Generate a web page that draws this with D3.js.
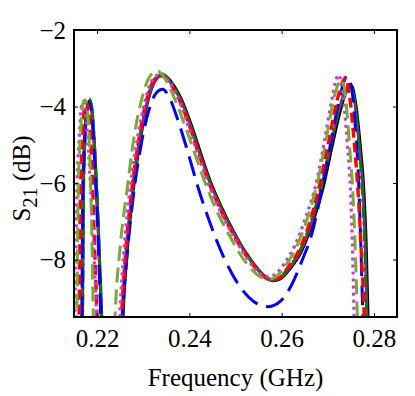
<!DOCTYPE html>
<html>
<head>
<meta charset="utf-8">
<script src="https://cdn.jsdelivr.net/npm/d3@7"></script>
<style>
  body { margin: 0; background: #fff; }
</style>
</head>
<body>
<div id="chart"></div>
<script>
const serif = "'Liberation Serif'";

// x ticks and y ticks
const xTicks = [0.22, 0.24, 0.26, 0.28];
const yTicks = [-8, -6, -4, -2];

// each series: [frequency GHz, S21 dB]
const blackSolid = [[0.2165,-11],[0.2168,-9.5],[0.2170,-6.2],[0.2174,-4.7],[0.2179,-4.0],[0.2184,-3.85],[0.2189,-4.1],[0.2195,-5.2],[0.2202,-7.0],[0.2210,-9.5],[0.2214,-11],
  [0.2252,-11],[0.2256,-9.5],[0.2265,-7.8],[0.2278,-6.2],[0.2293,-4.9],[0.2310,-3.85],[0.2327,-3.3],[0.2343,-3.17],[0.2360,-3.35],[0.2384,-3.85],[0.2406,-4.55],[0.2425,-5.25],[0.2445,-5.95],[0.2470,-6.65],[0.2495,-7.25],[0.2520,-7.78],[0.2545,-8.2],[0.2565,-8.45],[0.2580,-8.55],[0.2597,-8.5],[0.2617,-8.25],[0.2642,-7.8],[0.2668,-7.0],[0.2690,-6.1],[0.2708,-5.1],[0.2726,-4.15],[0.2740,-3.6],[0.2751,-3.45],[0.2760,-3.9],[0.2770,-5.0],[0.2778,-6.2],[0.2783,-7.6],[0.2787,-9.5],[0.2790,-11]];

const purpleSolid = [[0.2165,-11],[0.2168,-9.5],[0.2170,-6.3],[0.2174,-4.75],[0.2179,-4.05],[0.2184,-3.9],[0.2189,-4.15],[0.2195,-5.25],[0.2202,-7.05],[0.2209,-9.5],[0.2213,-11],
  [0.2251,-11],[0.2255,-9.5],[0.2264,-7.8],[0.2277,-6.2],[0.2292,-4.9],[0.2309,-3.87],[0.2326,-3.32],[0.2342,-3.2],[0.2359,-3.38],[0.2383,-3.88],[0.2405,-4.58],[0.2424,-5.28],[0.2444,-5.96],[0.2469,-6.66],[0.2494,-7.25],[0.2519,-7.78],[0.2544,-8.2],[0.2564,-8.45],[0.2579,-8.54],[0.2596,-8.49],[0.2616,-8.23],[0.2641,-7.78],[0.2666,-6.98],[0.2688,-6.05],[0.2706,-5.05],[0.2724,-4.1],[0.2738,-3.58],[0.2749,-3.42],[0.2758,-3.85],[0.2768,-5.0],[0.2776,-6.2],[0.2781,-7.6],[0.2785,-9.5],[0.2788,-11]];

const greenDashDot = [[0.2166,-11],[0.2169,-9.5],[0.2171,-6.2],[0.2175,-4.6],[0.2180,-3.9],[0.2184,-3.8],[0.2189,-4.05],[0.2195,-5.1],[0.2202,-6.9],[0.2209,-9.5],[0.2213,-11],
  [0.2250,-11],[0.2254,-9.5],[0.2263,-7.8],[0.2276,-6.2],[0.2291,-4.88],[0.2308,-3.83],[0.2325,-3.28],[0.2341,-3.15],[0.2358,-3.33],[0.2382,-3.85],[0.2404,-4.55],[0.2423,-5.25],[0.2443,-5.94],[0.2468,-6.64],[0.2493,-7.24],[0.2518,-7.76],[0.2543,-8.18],[0.2563,-8.43],[0.2578,-8.52],[0.2595,-8.47],[0.2615,-8.2],[0.2640,-7.75],[0.2665,-6.95],[0.2687,-6.0],[0.2706,-5.0],[0.2724,-4.1],[0.2739,-3.6],[0.2750,-3.5],[0.2759,-3.95],[0.2768,-5.05],[0.2775,-6.25],[0.2780,-7.65],[0.2784,-9.5],[0.2787,-11]];

const blueDashed = [[0.2164,-11],[0.2167,-9.5],[0.2169,-6.3],[0.2173,-4.8],[0.2178,-4.05],[0.2183,-3.9],[0.2188,-4.15],[0.2194,-5.3],[0.2201,-7.1],[0.2208,-9.5],[0.2212,-11],
  [0.2250,-11],[0.2255,-9.5],[0.2265,-7.9],[0.2278,-6.4],[0.2294,-5.1],[0.2311,-4.15],[0.2328,-3.65],[0.2342,-3.55],[0.2356,-3.75],[0.2375,-4.35],[0.2397,-5.2],[0.2419,-6.12],[0.2445,-7.05],[0.2475,-7.95],[0.2508,-8.68],[0.2540,-9.1],[0.2571,-9.23],[0.2598,-9.08],[0.2622,-8.65],[0.2645,-8.0],[0.2666,-7.3],[0.2688,-6.1],[0.2708,-4.85],[0.2726,-3.75],[0.2742,-3.2],[0.2752,-3.55],[0.2760,-4.6],[0.2767,-6.0],[0.2772,-7.8],[0.2776,-9.5],[0.2779,-11]];

const redDashed = [[0.2158,-11],[0.2161,-9.5],[0.2164,-6.3],[0.2169,-4.7],[0.2173,-4.0],[0.2177,-3.9],[0.2182,-4.15],[0.2188,-5.3],[0.2193,-7.1],[0.2200,-9.5],[0.2204,-11],
  [0.2248,-11],[0.2253,-9.5],[0.2262,-7.8],[0.2275,-6.2],[0.2290,-4.9],[0.2307,-3.85],[0.2324,-3.3],[0.2340,-3.2],[0.2357,-3.38],[0.2381,-3.9],[0.2403,-4.6],[0.2422,-5.3],[0.2442,-5.97],[0.2467,-6.68],[0.2492,-7.27],[0.2517,-7.78],[0.2542,-8.2],[0.2562,-8.45],[0.2577,-8.53],[0.2594,-8.48],[0.2614,-8.2],[0.2638,-7.75],[0.2663,-6.95],[0.2685,-5.9],[0.2703,-4.85],[0.2720,-3.85],[0.2731,-3.4],[0.2738,-3.25],[0.2747,-3.7],[0.2757,-4.9],[0.2766,-6.3],[0.2773,-7.9],[0.2779,-9.5],[0.2782,-11]];

const magentaDotted = [[0.2149,-11],[0.2152,-9.5],[0.2156,-6.3],[0.2162,-4.7],[0.2166,-4.0],[0.2170,-3.87],[0.2175,-4.15],[0.2182,-5.3],[0.2190,-7.1],[0.2199,-9.5],[0.2203,-11],
  [0.2244,-11],[0.2249,-9.5],[0.2258,-7.8],[0.2272,-6.1],[0.2288,-4.8],[0.2305,-3.8],[0.2322,-3.27],[0.2338,-3.15],[0.2355,-3.33],[0.2378,-3.85],[0.2400,-4.6],[0.2420,-5.3],[0.2440,-5.98],[0.2465,-6.68],[0.2490,-7.27],[0.2515,-7.78],[0.2538,-8.18],[0.2555,-8.38],[0.2570,-8.45],[0.2587,-8.38],[0.2605,-8.12],[0.2628,-7.65],[0.2652,-6.9],[0.2677,-5.9],[0.2695,-4.75],[0.2710,-3.75],[0.2718,-3.3],[0.2723,-3.17],[0.2732,-3.6],[0.2742,-4.9],[0.2750,-6.4],[0.2754,-7.9],[0.2757,-9.5],[0.2760,-11]];

const oliveDashed = [[0.2153,-11],[0.2156,-9.5],[0.2159,-6.3],[0.2164,-4.7],[0.2169,-3.95],[0.2174,-3.83],[0.2179,-4.1],[0.2184,-5.2],[0.2188,-7.0],[0.2192,-9.5],[0.2196,-11],
  [0.2235,-11],[0.2239,-9.5],[0.2249,-7.8],[0.2265,-6.17],[0.2280,-4.8],[0.2298,-3.75],[0.2315,-3.2],[0.2330,-3.07],[0.2346,-3.25],[0.2370,-3.85],[0.2395,-4.65],[0.2416,-5.38],[0.2436,-6.05],[0.2460,-6.75],[0.2485,-7.33],[0.2510,-7.86],[0.2533,-8.23],[0.2553,-8.44],[0.2570,-8.52],[0.2587,-8.45],[0.2606,-8.2],[0.2630,-7.72],[0.2655,-6.95],[0.2680,-5.85],[0.2698,-4.75],[0.2714,-3.75],[0.2723,-3.4],[0.2730,-3.3],[0.2738,-3.7],[0.2747,-5.0],[0.2755,-6.4],[0.2760,-7.9],[0.2764,-9.5],[0.2767,-11]];

const series = [
  { data: blackSolid, color: "#000000", dash: null, width: 3.2 },
  { data: purpleSolid, color: "#7E2F8E", dash: null, width: 2.8 },
  { data: greenDashDot, color: "#008000", dash: "12,4,3,4", width: 2.8 },
  { data: blueDashed, color: "#0000FF", dash: "20,9", width: 3 },
  { data: redDashed, color: "#FF0000", dash: "10,5", width: 3.4 },
  { data: magentaDotted, color: "#CC33EE", dash: "3,4", width: 3.2 },
  { data: oliveDashed, color: "#77AC30", dash: "15,7", width: 3 }
];

const margin = { top: 30, right: 18, bottom: 79, left: 74 },
      width = 415 - margin.left - margin.right,
      height = 396 - margin.top - margin.bottom;

const svg = d3.select("#chart")
  .append("svg")
    .attr("width", 415)
    .attr("height", 396)
  .append("g")
    .attr("transform", `translate(${margin.left},${margin.top})`);

const x = d3.scaleLinear().domain([0.215, 0.285]).range([0, width]);
const y = d3.scaleLinear().domain([-9.5, -2]).range([height, 0]);

svg.append("clipPath").attr("id", "plotclip")
  .append("rect").attr("width", width).attr("height", height);

const line = d3.line()
  .x(d => x(d[0]))
  .y(d => y(d[1]))
  .curve(d3.curveMonotoneX);

const lines = svg.append("g").attr("clip-path", "url(#plotclip)");
series.forEach(s => {
  lines.append("path")
    .datum(s.data)
    .attr("fill", "none")
    .attr("stroke", s.color)
    .attr("stroke-width", s.width)
    .attr("stroke-dasharray", s.dash)
    .attr("d", line);
});

// inward ticks on all four sides, matlab style
const fmtY = d => d < 0 ? "\u2212" + Math.abs(d) : String(d);
const axes = [
  svg.append("g").attr("transform", `translate(0,${height})`)
    .call(d3.axisBottom(x).tickValues(xTicks).tickSizeInner(-4).tickSizeOuter(0).tickPadding(12).tickFormat(d3.format(".2f"))),
  svg.append("g")
    .call(d3.axisTop(x).tickValues(xTicks).tickSizeInner(-4).tickSizeOuter(0).tickFormat("")),
  svg.append("g")
    .call(d3.axisLeft(y).tickValues(yTicks).tickSizeInner(-4).tickSizeOuter(0).tickPadding(8).tickFormat(fmtY)),
  svg.append("g").attr("transform", `translate(${width},0)`)
    .call(d3.axisRight(y).tickValues(yTicks).tickSizeInner(-4).tickSizeOuter(0).tickFormat(""))
];
axes.forEach(a => {
  a.select(".domain").remove();
  a.selectAll("line").attr("stroke", "#000").attr("stroke-width", 1);
  a.selectAll("text")
    .style("font-family", serif)
    .style("font-size", "25px")
    .attr("fill", "#000");
});

svg.append("rect")
  .attr("width", width).attr("height", height)
  .attr("fill", "none").attr("stroke", "#000").attr("stroke-width", 2);

// axis titles
svg.append("text")
  .attr("x", width / 2)
  .attr("y", height + 69)
  .attr("text-anchor", "middle")
  .style("font-family", serif)
  .style("font-size", "25px")
  .text("Frequency (GHz)");

const yl = svg.append("text")
  .attr("transform", "rotate(-90)")
  .attr("x", -height / 2 - 5)
  .attr("y", -44)
  .attr("text-anchor", "middle")
  .style("font-family", serif)
  .style("font-size", "25px");
yl.append("tspan").text("S");
yl.append("tspan").attr("dy", 7).style("font-size", "20px").text("21");
yl.append("tspan").attr("dy", -7).text(" (dB)");
</script>
</body>
</html>
